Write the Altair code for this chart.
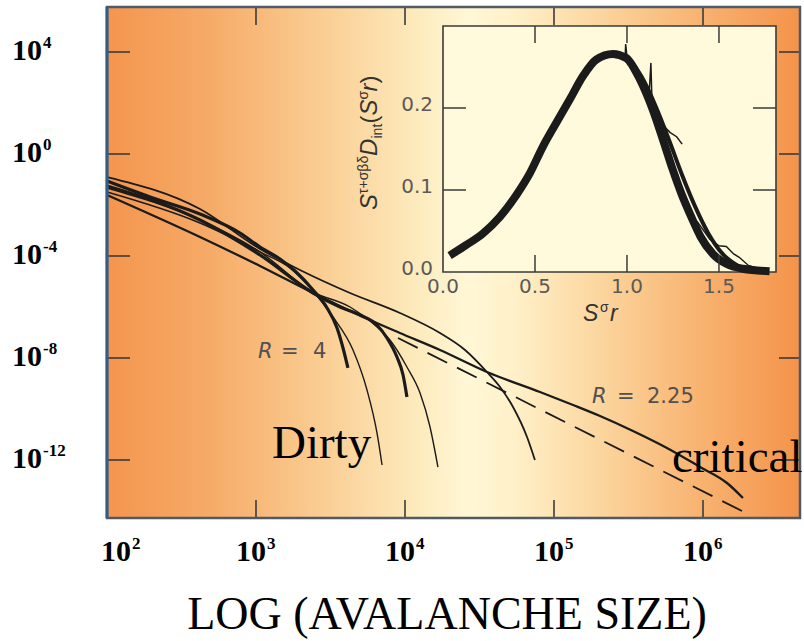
import altair as alt
import pandas as pd

W, H = 693, 511
INK = "#1b1b1b"
SERIF = "Liberation Serif"
SANS = "Liberation Sans"
WIDE = "DejaVu Sans"

# ---------------- main panel: avalanche size distributions (log10 S, log10 D)
r4_logS = [2.000, 2.289, 2.624, 2.893, 3.027, 3.161, 3.262, 3.383, 3.477, 3.544, 3.584, 3.617]
r4_logD = [-1.059, -1.686, -2.353, -3.098, -3.647, -4.118, -4.588, -5.333, -6.039, -6.824, -7.608, -8.392]
d2_logS = [2.000, 2.624, 3.027, 3.383, 3.564, 3.698, 3.812, 3.879, 3.946, 3.987, 4.013]
d2_logD = [-1.255, -2.588, -3.961, -5.451, -6.000, -6.314, -6.706, -7.216, -7.961, -8.667, -9.529]
t1_logS = [2.000, 2.624, 3.027, 3.228, 3.383, 3.517, 3.651, 3.745, 3.812, 3.846]
t1_logD = [-1.490, -2.706, -3.843, -4.471, -5.373, -6.392, -7.686, -9.255, -10.941, -12.196]
t2_logS = [2.000, 2.624, 3.027, 3.383, 3.631, 3.812, 3.899, 4.013, 4.101, 4.168, 4.221]
t2_logD = [-1.333, -2.588, -3.843, -5.412, -6.000, -6.784, -7.294, -8.353, -9.373, -10.706, -12.275]
l1_logS = [2.000, 2.624, 3.027, 3.295, 3.631, 3.966, 4.235, 4.403, 4.550, 4.638, 4.725, 4.819, 4.872]
l1_logD = [-0.902, -2.157, -3.725, -4.549, -5.451, -6.235, -7.020, -7.686, -8.549, -9.137, -9.922, -11.098, -12.000]
r225_logS = [2.000, 2.624, 3.027, 3.383, 3.765, 3.966, 4.235, 4.550, 4.906, 5.128, 5.309, 5.530, 5.758, 5.980, 6.161, 6.268]
r225_logD = [-1.608, -3.255, -4.392, -5.451, -6.510, -7.020, -7.686, -8.549, -9.333, -9.843, -10.275, -10.863, -11.529, -12.275, -12.902, -13.490]
crit_logS = [3.953, 6.315]
crit_logD = [-7.216, -14.157]

x_exps = [2, 3, 4, 5, 6]
y_exps = [4, 0, -4, -8, -12]
x_tick_exps = [3, 4, 5, 6]

# ---------------- inset: scaling collapse
band_x = [0.036, 0.127, 0.217, 0.308, 0.399, 0.471, 0.543, 0.616, 0.688, 0.761, 0.833, 0.924,
          0.996, 1.07, 1.14, 1.196, 1.25, 1.295, 1.35, 1.40, 1.467, 1.54, 1.63, 1.775]
band_y = [0.020, 0.033, 0.047, 0.067, 0.094, 0.120, 0.153, 0.182, 0.210, 0.239, 0.259, 0.266,
          0.261, 0.235, 0.198, 0.161, 0.124, 0.096, 0.067, 0.043, 0.022, 0.010, 0.004, 0.001]
wide_x = [1.00, 1.08, 1.16, 1.23, 1.30, 1.37, 1.44, 1.52, 1.60]
wide_y = [0.262, 0.238, 0.200, 0.160, 0.118, 0.080, 0.048, 0.022, 0.008]
out1_x = [0.96, 0.99, 0.993, 1.0, 1.03]
out1_y = [0.262, 0.262, 0.278, 0.262, 0.255]
out2_x = [1.08, 1.12, 1.13, 1.135, 1.16, 1.20, 1.235, 1.27, 1.30]
out2_y = [0.235, 0.215, 0.255, 0.215, 0.195, 0.178, 0.170, 0.165, 0.156]
out3_x = [1.38, 1.45, 1.50, 1.54, 1.58, 1.61, 1.66, 1.72]
out3_y = [0.062, 0.040, 0.032, 0.031, 0.022, 0.018, 0.008, 0.004]
in_xticks = [0.5, 1.0, 1.5]
in_yticks = [0.1, 0.2]
in_xlabels = [0.0, 0.5, 1.0, 1.5]
in_ylabels = [0.0, 0.1, 0.2]

# ---------------- scales
X_MAIN = alt.Scale(type="log", domain=[1e2, 10 ** 6.651], nice=False)
Y_MAIN = alt.Scale(type="log", domain=[10 ** -14.275, 10 ** 5.765], nice=False)
X_IN = alt.Scale(type="linear", domain=[0, 1.81], range=[336, 669], nice=False, zero=False)
Y_IN = alt.Scale(type="linear", domain=[0, 0.30], range=[265, 19], nice=False, zero=False)

ONE = pd.DataFrame({"k": [0]})


def log_curves(items):
    rows = []
    for name, xs, ys in items:
        for i, (a, b) in enumerate(zip(xs, ys)):
            rows.append({"series": name, "i": i, "S": 10.0 ** a, "D": 10.0 ** b})
    return pd.DataFrame(rows)


def lin_curves(items):
    rows = []
    for name, xs, ys in items:
        for i, (a, b) in enumerate(zip(xs, ys)):
            rows.append({"series": name, "i": i, "x": a, "y": b})
    return pd.DataFrame(rows)


def main_line(df, **mk):
    return alt.Chart(df).mark_line(color=INK, interpolate="monotone", **mk).encode(
        x=alt.X("S:Q", scale=X_MAIN, axis=None),
        y=alt.Y("D:Q", scale=Y_MAIN, axis=None),
        detail="series:N", order="i:Q")


def inset_line(df, **mk):
    return alt.Chart(df).mark_line(color=INK, **mk).encode(
        x=alt.X("x:Q", scale=X_IN, axis=None),
        y=alt.Y("y:Q", scale=Y_IN, axis=None),
        detail="series:N", order="i:Q")


def txt(text, x, y, **mk):
    return alt.Chart(ONE).mark_text(text=text, **mk).encode(x=x, y=y)


def mx(v):
    return alt.XDatum(v, scale=X_MAIN, type="quantitative", axis=None)


def my(v):
    return alt.YDatum(v, scale=Y_MAIN, type="quantitative", axis=None)


layers = []

# background gradient
grad = alt.LinearGradient(
    gradient="linear", x1=0, x2=1, y1=0, y2=0,
    stops=[alt.GradientStop(offset=0.00, color="#f4954e"),
           alt.GradientStop(offset=0.15, color="#f6ab68"),
           alt.GradientStop(offset=0.30, color="#facb90"),
           alt.GradientStop(offset=0.45, color="#fdebbd"),
           alt.GradientStop(offset=0.52, color="#fff7d6"),
           alt.GradientStop(offset=0.58, color="#fff2cb"),
           alt.GradientStop(offset=0.70, color="#fcd8a2"),
           alt.GradientStop(offset=0.85, color="#f8b472"),
           alt.GradientStop(offset=1.00, color="#f4934a")])
layers.append(alt.Chart(ONE).mark_rect(fill=grad).encode(
    x=alt.value(0), x2=alt.value(W), y=alt.value(0), y2=alt.value(H)))

# main curves
layers.append(main_line(log_curves([("L1", l1_logS, l1_logD)]), strokeWidth=1.8))
layers.append(main_line(log_curves([("T1", t1_logS, t1_logD), ("T2", t2_logS, t2_logD)]), strokeWidth=1.4))
layers.append(main_line(log_curves([("R4", r4_logS, r4_logD), ("D2", d2_logS, d2_logD)]), strokeWidth=3.2))
layers.append(main_line(log_curves([("R225", r225_logS, r225_logD)]), strokeWidth=2.3))
layers.append(main_line(log_curves([("crit", crit_logS, crit_logD)]), strokeWidth=1.8, strokeDash=[22, 11]))

# main ticks (inward, all four sides)
xt = pd.DataFrame({"v": [10.0 ** e for e in x_tick_exps]})
yt = pd.DataFrame({"v": [10.0 ** e for e in y_exps]})
TICK = dict(color="#3b3b3b", strokeWidth=1.6)
layers.append(alt.Chart(xt).mark_rule(**TICK).encode(
    x=alt.X("v:Q", scale=X_MAIN, axis=None), y=alt.value(H - 18), y2=alt.value(H)))
layers.append(alt.Chart(xt).mark_rule(**TICK).encode(
    x=alt.X("v:Q", scale=X_MAIN, axis=None), y=alt.value(0), y2=alt.value(18)))
layers.append(alt.Chart(yt).mark_rule(**TICK).encode(
    y=alt.Y("v:Q", scale=Y_MAIN, axis=None), x=alt.value(0), x2=alt.value(23)))
layers.append(alt.Chart(yt).mark_rule(**TICK).encode(
    y=alt.Y("v:Q", scale=Y_MAIN, axis=None), x=alt.value(W - 21), x2=alt.value(W)))

# frame
layers.append(alt.Chart(ONE).mark_rect(fillOpacity=0, stroke="#505a66", strokeWidth=2.5).encode(
    x=alt.value(0), x2=alt.value(W), y=alt.value(0), y2=alt.value(H)))
layers.append(alt.Chart(ONE).mark_rule(color="#2f5e86", strokeWidth=3).encode(
    x=alt.value(0), y=alt.value(0), y2=alt.value(H)))

# ---------------- inset
layers.append(alt.Chart(ONE).mark_rect(fill="#fffadc", stroke="#3a3a3a", strokeWidth=1.6).encode(
    x=alt.XDatum(0, scale=X_IN, type="quantitative", axis=None), x2=alt.X2Datum(1.81),
    y=alt.YDatum(0, scale=Y_IN, type="quantitative", axis=None), y2=alt.Y2Datum(0.30)))
layers.append(inset_line(lin_curves([("band", band_x, band_y)]), strokeWidth=8, strokeJoin="round",
                         interpolate="monotone"))
layers.append(inset_line(lin_curves([("wide", wide_x, wide_y)]), strokeWidth=4, interpolate="monotone"))
layers.append(inset_line(lin_curves([("o1", out1_x, out1_y), ("o2", out2_x, out2_y), ("o3", out3_x, out3_y)]),
                         strokeWidth=1.5))
ixt = pd.DataFrame({"v": in_xticks})
iyt = pd.DataFrame({"v": in_yticks})
ITICK = dict(color="#3a3a3a", strokeWidth=1.5)
layers.append(alt.Chart(ixt).mark_rule(**ITICK).encode(
    x=alt.X("v:Q", scale=X_IN, axis=None), y=alt.value(265 - 17), y2=alt.value(265)))
layers.append(alt.Chart(ixt).mark_rule(**ITICK).encode(
    x=alt.X("v:Q", scale=X_IN, axis=None), y=alt.value(19), y2=alt.value(36)))
layers.append(alt.Chart(iyt).mark_rule(**ITICK).encode(
    y=alt.Y("v:Q", scale=Y_IN, axis=None), x=alt.value(336), x2=alt.value(359)))
layers.append(alt.Chart(iyt).mark_rule(**ITICK).encode(
    y=alt.Y("v:Q", scale=Y_IN, axis=None), x=alt.value(646), x2=alt.value(669)))

ixl = pd.DataFrame({"v": in_xlabels, "t": [f"{v:.1f}" for v in in_xlabels]})
iyl = pd.DataFrame({"v": in_ylabels, "t": [f"{v:.1f}" for v in in_ylabels]})
ILAB = dict(font=WIDE, fontSize=20, color="#5a5a5a")
layers.append(alt.Chart(ixl).mark_text(align="center", baseline="alphabetic", **ILAB).encode(
    x=alt.X("v:Q", scale=X_IN, axis=None), y=alt.value(286), text="t:N"))
layers.append(alt.Chart(iyl).mark_text(align="right", baseline="middle", dy=-3, **ILAB).encode(
    y=alt.Y("v:Q", scale=Y_IN, axis=None), x=alt.value(326), text="t:N"))

# inset axis titles: S^{tau+sigma beta delta} D_int(S^sigma r)  and  S^sigma r
TCOL = "#333333"
ytitle = [("S", 0, 0, 24, "italic"), ("τ+σβδ", 16, -9, 14, "normal"), ("D", 54, 0, 24, "italic"),
          ("int", 71.5, 5, 14, "normal"), ("(", 86.5, 0, 24, "normal"), ("S", 94.5, 0, 24, "italic"),
          ("σ", 110.5, -9, 14, "normal"), ("r", 118.5, 0, 24, "italic"), (")", 126.5, 0, 24, "normal")]
for t, dx, dy, fs, st in ytitle:
    layers.append(txt(t, alt.value(270), alt.value(203), angle=270, align="left", baseline="alphabetic",
                      dx=dx, dy=dy, font=SANS, fontSize=fs, fontStyle=st, color=TCOL))
xtitle = [("S", 0, 0, 23, "italic"), ("σ", 17, -9, 14, "normal"), ("r", 27, 0, 23, "italic")]
for t, dx, dy, fs, st in xtitle:
    layers.append(txt(t, alt.value(476), alt.value(314), align="left", baseline="alphabetic",
                      dx=dx, dy=dy, font=SANS, fontSize=fs, fontStyle=st, color=TCOL))

# ---------------- main tick labels (bold serif, 10 + superscript exponent)
xl = pd.DataFrame({"v": [10.0 ** e for e in x_exps], "base": ["10"] * len(x_exps),
                   "exp": [str(e) for e in x_exps]})
yl = pd.DataFrame({"v": [10.0 ** e for e in y_exps], "base": ["10"] * len(y_exps),
                   "exp": [str(e) for e in y_exps]})
BASE = dict(font=SERIF, fontWeight="bold", fontSize=30, color="black", baseline="alphabetic")
EXP = dict(font=SERIF, fontWeight="bold", fontSize=17, color="black", baseline="alphabetic")
for flt, dxb in (("datum.v > 150", 10), ("datum.v < 150", 24)):
    layers.append(alt.Chart(xl).transform_filter(flt).mark_text(align="right", dx=dxb, **BASE).encode(
        x=alt.X("v:Q", scale=X_MAIN, axis=None), y=alt.value(H + 43), text="base:N"))
    layers.append(alt.Chart(xl).transform_filter(flt).mark_text(align="left", dx=dxb + 1, **EXP).encode(
        x=alt.X("v:Q", scale=X_MAIN, axis=None), y=alt.value(H + 31), text="exp:N"))
layers.append(alt.Chart(yl).mark_text(align="left", dy=8, **BASE).encode(
    y=alt.Y("v:Q", scale=Y_MAIN, axis=None), x=alt.value(-95), text="base:N"))
layers.append(alt.Chart(yl).mark_text(align="left", dy=-4, **EXP).encode(
    y=alt.Y("v:Q", scale=Y_MAIN, axis=None), x=alt.value(-64), text="exp:N"))

# ---------------- annotations
RLAB = dict(font=WIDE, fontSize=21, color="#505050", align="left", baseline="alphabetic")
layers.append(txt("R", mx(10 ** 3.013), my(10 ** -8.0), fontStyle="italic", **RLAB))
layers.append(txt("=", mx(10 ** 3.013), my(10 ** -8.0), dx=23, **RLAB))
layers.append(txt("4", mx(10 ** 3.013), my(10 ** -8.0), dx=55, **RLAB))
layers.append(txt("R", mx(10 ** 5.255), my(10 ** -9.765), fontStyle="italic", **RLAB))
layers.append(txt("=", mx(10 ** 5.255), my(10 ** -9.765), dx=25, **RLAB))
layers.append(txt("2.25", mx(10 ** 5.255), my(10 ** -9.765), dx=55, **RLAB))

BIG = dict(font=SERIF, fontSize=47, color="black", align="left", baseline="alphabetic")
layers.append(txt("Dirty", mx(10 ** 3.107), my(10 ** -11.92), **BIG))
layers.append(txt("critical", mx(10 ** 5.792), my(10 ** -12.47), **BIG))

layers.append(txt("LOG (AVALANCHE SIZE)", alt.value(340), alt.value(622), font=SERIF, fontSize=46,
                  color="black", align="center", baseline="alphabetic"))

chart = alt.layer(*layers).resolve_scale(x="independent", y="independent").properties(
    width=W, height=H,
    padding={"left": 107, "top": 7, "right": 4, "bottom": 123},
    autosize=alt.AutoSizeParams(type="none"),
    background="white",
).configure_view(strokeWidth=0)

chart.save("out.html", embed_options={"renderer": "svg", "actions": False})
